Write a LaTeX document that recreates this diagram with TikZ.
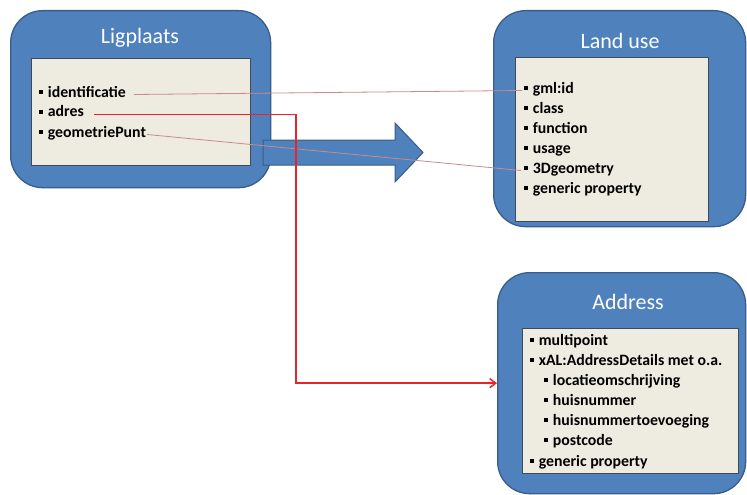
\documentclass[tikz,border=0pt]{standalone}
\usepackage{fontspec}
\setmainfont{Carlito}
\usetikzlibrary{arrows.meta}

\definecolor{boxblue}{HTML}{4F81BD}
\definecolor{boxedge}{HTML}{385D8A}
\definecolor{panel}{HTML}{EEECE1}
\definecolor{paneledge}{HTML}{3F4A58}
\definecolor{thinlink}{HTML}{C98A8A}
\definecolor{redlink}{HTML}{E8242A}

% small square bullet in front of each attribute
\newcommand\itemmark{\rule[0.2em]{0.27em}{0.27em}\hspace{0.28em}}

\tikzset{
  outerbox/.style={draw=boxedge, line width=1.3pt, fill=boxblue,
    rounded corners=32pt, anchor=north west, inner sep=0pt},
  panelbox/.style={draw=paneledge, line width=0.9pt, fill=panel,
    anchor=north west, inner sep=0pt},
  boxtitle/.style={text=white, inner sep=0pt,
    font=\fontsize{22}{25}\selectfont},
  entry/.style={anchor=west, inner sep=0pt, text height=0.72em, text depth=0.22em,
    yshift=-2.5pt, font=\fontsize{15.8}{18}\selectfont\bfseries},
  blockarrow/.style={draw=boxedge, line width=1pt, fill=boxblue},
  thinline/.style={draw=thinlink, line width=0.8pt},
  redline/.style={draw=redlink, line width=1.5pt,
    -{Straight Barb[length=6pt,width=9pt]}},
}

\begin{document}
\begin{tikzpicture}[x=1pt,y=-1pt]
\useasboundingbox[fill=white] (0,0) rectangle (747,495);

% ---- Ligplaats ----
\node[outerbox, minimum width=260pt, minimum height=177pt] (ligplaats) at (10,10) {};
\node[panelbox, minimum width=219pt, minimum height=107pt] (ligpanel) at (31,58) {};
\node[boxtitle] (ligtitle) at (140,38) {Ligplaats};
\node[entry] (idf)  at (39,92)  {\itemmark identificatie};
\node[entry] (adr)  at (39,112) {\itemmark adres};
\node[entry] (geo)  at (39,132) {\itemmark geometriePunt};

% ---- Land use ----
\node[outerbox, minimum width=252pt, minimum height=216pt] (landuse) at (493,10) {};
\node[panelbox, minimum width=193pt, minimum height=164pt] (lupanel) at (515,57) {};
\node[boxtitle] (lutitle) at (620,41) {Land use};
\node[entry] (gmlid) at (524,88)  {\itemmark gml:id};
\node[entry] (cls)   at (524,108) {\itemmark class};
\node[entry] (fun)   at (524,128) {\itemmark function};
\node[entry] (usg)   at (524,148) {\itemmark usage};
\node[entry] (geom)  at (524,168) {\itemmark 3Dgeometry};
\node[entry] (gpl)   at (524,188) {\itemmark generic property};

% ---- Address ----
\node[outerbox, minimum width=248pt, minimum height=221pt] (address) at (497,272) {};
\node[panelbox, minimum width=216pt, minimum height=145pt] (adpanel) at (522,328) {};
\node[boxtitle] (adtitle) at (628,302) {Address};
\node[entry] (mpt) at (530,340) {\itemmark multipoint};
\node[entry] (xal) at (530,360) {\itemmark xAL:AddressDetails met o.a.};
\node[entry] (loc) at (544,380) {\itemmark locatieomschrijving};
\node[entry] (hnr) at (544,400) {\itemmark huisnummer};
\node[entry] (hnt) at (544,420) {\itemmark huisnummertoevoeging};
\node[entry] (pcd) at (544,440) {\itemmark postcode};
\node[entry] (gpa) at (530,461) {\itemmark generic property};

% ---- block arrow from Ligplaats to Land use ----
\draw[blockarrow] (263,140) -- (395,140) -- (395,123) -- (423,152.5)
  -- (395,182) -- (395,165) -- (263,165) -- cycle;

% ---- attribute links ----
\coordinate (redcol) at (296,0);
\draw[thinline] ([xshift=8pt]idf.east) -- ([xshift=-2pt]gmlid.west);
\draw[thinline] ([xshift=1pt]geo.east) -- ([xshift=-3pt]geom.west);
\draw[redline] ([xshift=10pt]adr.east) -| (redcol |- address.west) -- (address.west);
\end{tikzpicture}
\end{document}
